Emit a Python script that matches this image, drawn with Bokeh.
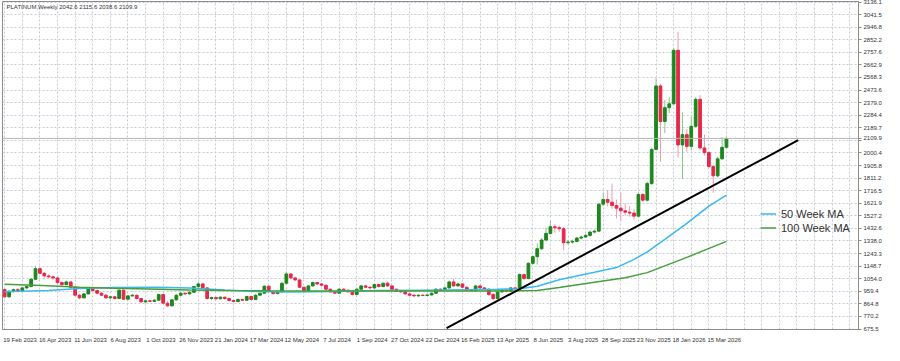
from bokeh.plotting import figure
from bokeh.models import ColumnDataSource, FixedTicker, Span, Label, Legend, LegendItem, Range1d
from bokeh.embed import file_html
from bokeh.resources import INLINE

# ---------------- data (weekly PLATINUM candles) ----------------
opens = [972, 918, 960, 972, 965, 985, 995, 1050, 1130, 1095,
         1075, 1068, 1060, 1025, 1010, 1030, 990, 930, 910, 940,
         978, 965, 945, 930, 910, 918, 905, 968, 900, 925,
         930, 905, 880, 888, 884, 893, 935, 870, 850, 895,
         930, 945, 940, 952, 995, 1015, 985, 905, 912, 903,
         915, 905, 890, 882, 898, 892, 920, 898, 930, 945,
         998, 958, 942, 955, 1020, 1090, 1060, 1045, 990, 965,
         1000, 1025, 1015, 1005, 975, 955, 945, 975, 968, 955,
         935, 975, 1000, 990, 985, 1010, 995, 1020, 1000, 975,
         960, 955, 940, 930, 925, 930, 928, 932, 945, 975,
         970, 985, 1030, 1000, 1015, 990, 968, 965, 1000, 985,
         975, 935, 905, 955, 970, 960, 985, 978, 1085, 1055,
         1170, 1220, 1280, 1345, 1395, 1445, 1438, 1430, 1325, 1330,
         1335, 1360, 1368, 1380, 1405, 1412, 1615, 1650, 1630, 1605,
         1585, 1565, 1555, 1548, 1525, 1688, 1645, 1770, 2027, 2505,
         2237, 2341, 2370, 2773, 2061, 2138, 2050, 2201, 2404, 2038,
         2003, 1898, 1828, 1956, 2042.6]
highs = [985, 968, 980, 985, 992, 1005, 1058, 1150, 1140, 1105,
         1090, 1078, 1068, 1035, 1040, 1035, 995, 940, 948, 985,
         985, 972, 955, 940, 925, 925, 975, 975, 932, 940,
         935, 910, 895, 896, 900, 942, 940, 885, 902, 938,
         955, 952, 960, 1000, 1030, 1020, 990, 920, 918, 922,
         920, 912, 900, 905, 904, 928, 925, 938, 955, 1005,
         1002, 965, 962, 1028, 1105, 1095, 1068, 1050, 995, 1005,
         1032, 1030, 1020, 1010, 980, 962, 980, 982, 972, 960,
         982, 1008, 1008, 998, 1018, 1015, 1028, 1035, 1005, 980,
         968, 962, 948, 938, 935, 938, 940, 952, 985, 985,
         995, 1040, 1055, 1025, 1020, 995, 975, 1008, 1008, 992,
         985, 945, 962, 978, 980, 992, 995, 1095, 1092, 1178,
         1230, 1320, 1360, 1440, 1490, 1465, 1455, 1440, 1345, 1350,
         1370, 1378, 1392, 1415, 1425, 1625, 1700, 1720, 1770, 1650,
         1700, 1620, 1600, 1580, 1700, 1700, 1785, 2040, 2563, 2520,
         2400, 2420, 2790, 2913, 2306, 2180, 2270, 2420, 2435, 2140,
         2015, 1910, 1970, 2120, 2115.6]
lows = [905, 910, 950, 958, 960, 975, 990, 1045, 1085, 1060,
        1055, 1045, 1015, 1000, 1005, 985, 920, 900, 905, 935,
        958, 938, 925, 905, 900, 898, 900, 895, 893, 918,
        898, 872, 870, 876, 878, 888, 862, 843, 845, 890,
        922, 930, 935, 948, 985, 978, 898, 895, 896, 898,
        897, 882, 875, 877, 885, 888, 892, 893, 925, 940,
        950, 935, 936, 950, 1015, 1050, 1038, 982, 958, 960,
        995, 1005, 995, 968, 948, 938, 940, 962, 950, 928,
        930, 970, 982, 975, 980, 988, 990, 995, 970, 955,
        948, 935, 925, 918, 918, 922, 925, 928, 940, 962,
        965, 978, 995, 995, 985, 960, 955, 960, 978, 968,
        925, 890, 900, 948, 952, 955, 970, 975, 1045, 1050,
        1160, 1160, 1270, 1335, 1385, 1400, 1405, 1268, 1310, 1318,
        1328, 1350, 1360, 1370, 1395, 1405, 1600, 1600, 1580, 1510,
        1490, 1530, 1520, 1500, 1515, 1630, 1635, 1760, 2020, 1933,
        2150, 2300, 2360, 1968, 1805, 2010, 2020, 2190, 2020, 1980,
        1885, 1700, 1815, 1950, 2038.6]
closes = [918, 960, 972, 965, 985, 995, 1050, 1130, 1095, 1075,
          1068, 1060, 1025, 1010, 1030, 990, 930, 910, 940, 978,
          965, 945, 930, 910, 918, 905, 968, 900, 925, 930,
          905, 880, 888, 884, 893, 935, 870, 850, 895, 930,
          945, 940, 952, 995, 1015, 985, 905, 912, 903, 915,
          905, 890, 882, 898, 892, 920, 898, 930, 945, 998,
          958, 942, 955, 1020, 1090, 1060, 1045, 990, 965, 1000,
          1025, 1015, 1005, 975, 955, 945, 975, 968, 955, 935,
          975, 1000, 990, 985, 1010, 995, 1020, 1000, 975, 960,
          955, 940, 930, 925, 930, 928, 932, 945, 975, 970,
          985, 1030, 1000, 1015, 990, 968, 965, 1000, 985, 975,
          935, 905, 955, 970, 960, 985, 978, 1085, 1055, 1170,
          1220, 1280, 1345, 1395, 1445, 1438, 1430, 1325, 1330, 1335,
          1360, 1368, 1380, 1405, 1412, 1615, 1650, 1630, 1605, 1585,
          1565, 1555, 1548, 1525, 1688, 1645, 1770, 2027, 2505, 2237,
          2341, 2370, 2773, 2061, 2138, 2050, 2201, 2404, 2038, 2003,
          1898, 1828, 1956, 2042.6, 2109.9]

# moving averages (read at sample weeks)
ma50_weeks = [0, 10, 17, 25, 35, 42, 50, 57, 65, 75, 85, 95, 105, 112, 117,
              121, 126, 134, 139, 143, 146, 150, 155, 160, 164]
ma50_vals = [956, 965, 980, 988, 990, 985, 970, 958, 955, 958, 965, 968, 972, 974, 978,
             997, 1046, 1102, 1138, 1200, 1256, 1350, 1470, 1600, 1683]
ma100_weeks = [0, 10, 17, 25, 35, 42, 50, 60, 70, 80, 90, 100, 110, 117, 121,
               126, 134, 141, 146, 155, 164]
ma100_vals = [1012, 1002, 990, 982, 975, 970, 966, 963, 962, 962, 962, 962, 962, 963, 966,
              988, 1028, 1062, 1100, 1215, 1335]

# hand-drawn trend line
trend_weeks = [100.4, 180.3]
trend_prices = [682.5, 2096.5]

# axis labels
date_weeks = [0, 8, 16, 24, 32, 40, 48, 56, 64, 72, 80, 88, 96, 104, 112, 120, 128, 136, 144, 152, 160]
date_labels = ["19 Feb 2023", "16 Apr 2023", "11 Jun 2023", "6 Aug 2023", "1 Oct 2023",
               "26 Nov 2023", "21 Jan 2024", "17 Mar 2024", "12 May 2024", "7 Jul 2024",
               "1 Sep 2024", "27 Oct 2024", "22 Dec 2024", "16 Feb 2025", "13 Apr 2025",
               "8 Jun 2025", "3 Aug 2025", "28 Sep 2025", "23 Nov 2025", "18 Jan 2026",
               "15 Mar 2026"]
price_ticks = [675.5, 770.2, 864.8, 959.4, 1054.0, 1148.7, 1243.3, 1338.0, 1432.6, 1527.2,
               1621.9, 1716.5, 1811.2, 1905.8, 2000.4, 2095.1, 2189.7, 2284.4, 2379.0,
               2473.6, 2568.3, 2662.9, 2757.6, 2852.2, 2946.8, 3041.5, 3136.1]
price_labels = ["675.5", "770.2", "864.8", "959.4", "1054.0", "1148.7", "1243.3", "1338.0",
                "1432.6", "1527.2", "1621.9", "1716.5", "1811.2", "1905.8", "2000.4", "",
                "2189.7", "2284.4", "2379.0", "2473.6", "2568.3", "2662.9", "2757.6", "2852.2",
                "2946.8", "3041.5", "3136.1"]
grid_weeks = list(range(0, 196, 4))
title_text = "PLATINUM,Weekly  2042.6 2115.6 2038.6 2109.9"
last_price = closes[-1]
last_price_label = "2109.9"

# ---------------- figure ----------------
x_start, x_end = -0.5, 194.0
y_start, y_end = 672.0, 3140.0
FONT = "Liberation Sans"

p = figure(width=884, height=345, output_backend="svg", toolbar_location=None,
           x_range=Range1d(x_start, x_end), y_range=Range1d(y_start, y_end),
           y_axis_location="right", min_border_left=2, min_border_top=1,
           min_border_bottom=0, min_border_right=0)
p.background_fill_color = "white"
p.border_fill_color = "white"
p.outline_line_color = "#8c8c8c"

p.xgrid.ticker = FixedTicker(ticks=grid_weeks)
p.ygrid.ticker = FixedTicker(ticks=price_ticks)
for g in (p.xgrid, p.ygrid):
    g.grid_line_color = "#c5cad3"
    g.grid_line_dash = "2 2"
    g.grid_line_width = 1

# x axis: labels start at their week (shift centre right)
shift = 3.5
p.xaxis.ticker = FixedTicker(ticks=[w + shift for w in date_weeks])
p.xaxis.major_label_overrides = {w + shift: lbl for w, lbl in zip(date_weeks, date_labels)}
p.xaxis.major_tick_line_color = None
p.xaxis.minor_tick_line_color = None
p.xaxis.axis_line_color = "#8c8c8c"
p.xaxis.major_label_standoff = 1
p.xaxis.major_label_text_font_size = "6px"
p.xaxis.major_label_text_font = FONT
p.xaxis.major_label_text_color = "#333333"

# y axis: grid labels plus the current price
y_ticks = price_ticks + [last_price]
y_overrides = {t: l for t, l in zip(price_ticks, price_labels)}
y_overrides[last_price] = last_price_label
p.yaxis.ticker = FixedTicker(ticks=y_ticks)
p.yaxis.major_label_overrides = y_overrides
p.yaxis.minor_tick_line_color = None
p.yaxis.major_tick_in = 0
p.yaxis.major_tick_out = 3
p.yaxis.major_tick_line_color = "#8c8c8c"
p.yaxis.axis_line_color = "#8c8c8c"
p.yaxis.major_label_standoff = 2
p.yaxis.major_label_text_font_size = "6px"
p.yaxis.major_label_text_font = FONT
p.yaxis.major_label_text_color = "#333333"

# candles
weeks = list(range(len(closes)))
up = [i for i in weeks if closes[i] >= opens[i]]
dn = [i for i in weeks if closes[i] < opens[i]]

def src(idx):
    return ColumnDataSource(dict(
        w=[weeks[i] for i in idx],
        hi=[highs[i] for i in idx],
        lo=[lows[i] for i in idx],
        top=[max(opens[i], closes[i]) for i in idx],
        bot=[min(opens[i], closes[i]) for i in idx]))

s_up, s_dn = src(up), src(dn)
GREEN, RED = "#1d861d", "#e5284b"
p.segment(x0="w", y0="lo", x1="w", y1="hi", source=s_up, line_color="#86c786", line_width=1)
p.segment(x0="w", y0="lo", x1="w", y1="hi", source=s_dn, line_color="#f39aab", line_width=1)
p.vbar(x="w", width=0.62, top="top", bottom="bot", source=s_up,
       fill_color=GREEN, line_color=GREEN, line_width=1)
p.vbar(x="w", width=0.62, top="top", bottom="bot", source=s_dn,
       fill_color=RED, line_color=RED, line_width=1)

# current price line
p.add_layout(Span(location=last_price, dimension="width", line_color="#b4b4b4", line_width=1))

# moving averages and trend line
r50 = p.line(ma50_weeks, ma50_vals, line_color="#3ab8f0", line_width=1.5)
r100 = p.line(ma100_weeks, ma100_vals, line_color="#45a03a", line_width=1.5)
p.line(trend_weeks, trend_prices, line_color="black", line_width=2)

legend = Legend(items=[LegendItem(label="50 Week MA", renderers=[r50]),
                       LegendItem(label="100 Week MA", renderers=[r100])],
                location=(758, 95), background_fill_alpha=0, border_line_alpha=0,
                padding=0, margin=0, spacing=1, label_height=13, glyph_height=13,
                glyph_width=16, label_standoff=5, label_text_font_size="11px",
                label_text_font=FONT, label_text_color="#333333")
p.add_layout(legend)

# title
p.add_layout(Label(x=x_start, y=y_end, x_offset=4, y_offset=-2, text=title_text,
                   text_font_size="6px", text_font=FONT, text_color="#333333",
                   text_baseline="top", text_align="left"))

open("out.html", "w").write(file_html(p, INLINE))
